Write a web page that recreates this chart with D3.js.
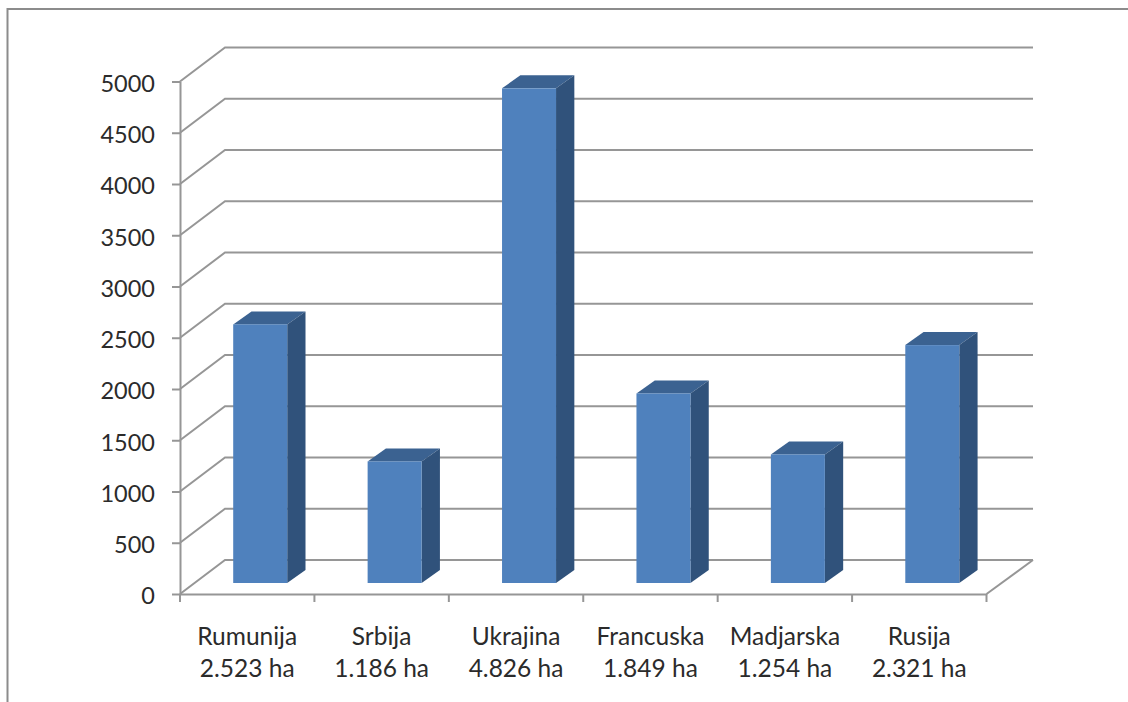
<!DOCTYPE html>
<html>
<head>
<meta charset="utf-8">
<script src="https://cdnjs.cloudflare.com/ajax/libs/d3/7.8.5/d3.min.js"></script>
<style>
  html, body { margin: 0; background: #fff; }
  svg { display: block; }
  text { font-family: Lato, "Open Sans", sans-serif; fill: #2b2b2b; }
</style>
</head>
<body>
<div id="chart"></div>
<script>
const categories = ["Rumunija", "Srbija", "Ukrajina", "Francuska", "Madjarska", "Rusija"];
const areaLabels = ["2.523 ha", "1.186 ha", "4.826 ha", "1.849 ha", "1.254 ha", "2.321 ha"];
const values = [2523, 1186, 4826, 1849, 1254, 2321];
const yTicks = [0, 500, 1000, 1500, 2000, 2500, 3000, 3500, 4000, 4500, 5000];

const width = 1128, height = 702;
const gridColor = "#969696";

// fake 3d: how far the back wall sits from the front axes
const wall = { dx: 45, dy: -34 };
const gridRight = 1033;
// bar front face sits a bit into the floor, side is the bar depth
const barShift = { dx: 13, dy: -11 };
const barDepth = { dx: 18.3, dy: -13 };
const barWidth = 54;

const svg = d3.select("#chart").append("svg")
  .attr("width", width)
  .attr("height", height);

// outer frame, only top and left are visible in the picture
svg.append("path")
  .attr("d", "M7.5,702V9H1128")
  .attr("fill", "none")
  .attr("stroke", "#8c8c8c")
  .attr("stroke-width", 2);

const x = d3.scaleBand().domain(categories).range([180, 986.5]);
const y = d3.scaleLinear().domain([0, 5000]).range([594, 81.5]);

// gridlines: diagonal on the side wall then flat on the back wall
svg.append("g")
  .selectAll("path")
  .data(yTicks)
  .enter().append("path")
  .attr("d", d => `M${x.range()[0]},${y(d)}l${wall.dx},${wall.dy}H${gridRight}`)
  .attr("fill", "none")
  .attr("stroke", gridColor)
  .attr("stroke-width", 2);

// floor edge on the right
svg.append("line")
  .attr("x1", x.range()[1])
  .attr("y1", y(0))
  .attr("x2", gridRight)
  .attr("y2", y(0) + wall.dy)
  .attr("stroke", gridColor)
  .attr("stroke-width", 2);

// y axis
const yAxis = svg.append("g")
  .attr("transform", `translate(${x.range()[0]},0)`)
  .call(d3.axisLeft(y).tickValues(yTicks).tickFormat(d3.format("d")).tickSize(8).tickSizeOuter(0).tickPadding(17));
yAxis.selectAll("path, line").attr("stroke", gridColor).attr("stroke-width", 2);
yAxis.selectAll("text")
  .attr("font-size", 23.5)
  .attr("dy", "0.42em")
  .style("font-family", "Lato, 'Open Sans', sans-serif");

// x axis: labels sit in the band centre
const xAxis = svg.append("g")
  .attr("transform", `translate(0,${y(0)})`)
  .call(d3.axisBottom(x).tickSize(0).tickSizeOuter(0));
xAxis.select("path").attr("stroke", gridColor).attr("stroke-width", 2);
xAxis.selectAll("text").remove();

// x ticks go on the band edges
xAxis.selectAll(".edge")
  .data(d3.range(categories.length + 1))
  .enter().append("line")
  .attr("class", "edge")
  .attr("x1", i => x.range()[0] + i * x.step())
  .attr("x2", i => x.range()[0] + i * x.step())
  .attr("y1", 0)
  .attr("y2", 8)
  .attr("stroke", gridColor)
  .attr("stroke-width", 2);

const xLabels = svg.append("g")
  .selectAll("text")
  .data(categories)
  .enter().append("text")
  .attr("text-anchor", "middle")
  .attr("font-size", 24.5);
xLabels.append("tspan")
  .attr("x", d => x(d) + x.bandwidth() / 2)
  .attr("y", 645)
  .text(d => d);
xLabels.append("tspan")
  .attr("x", d => x(d) + x.bandwidth() / 2)
  .attr("y", 677)
  .text((d, i) => areaLabels[i]);

// bars
const bars = svg.append("g")
  .selectAll("g")
  .data(categories)
  .enter().append("g")
  .attr("transform", d => `translate(${x(d) + (x.bandwidth() - barWidth) / 2 + barShift.dx},${barShift.dy})`);

bars.append("path") // top
  .attr("fill", "#3b6291")
  .attr("d", (d, i) => `M0,${y(values[i])}l${barDepth.dx},${barDepth.dy}h${barWidth}l${-barDepth.dx},${-barDepth.dy}z`);

bars.append("path") // side
  .attr("fill", "#30527b")
  .attr("d", (d, i) => `M${barWidth},${y(values[i])}l${barDepth.dx},${barDepth.dy}V${y(0) + barDepth.dy}l${-barDepth.dx},${-barDepth.dy}z`);

bars.append("rect") // front
  .attr("fill", "#4f81bd")
  .attr("x", 0)
  .attr("y", (d, i) => y(values[i]))
  .attr("width", barWidth)
  .attr("height", (d, i) => y(0) - y(values[i]));
</script>
</body>
</html>
